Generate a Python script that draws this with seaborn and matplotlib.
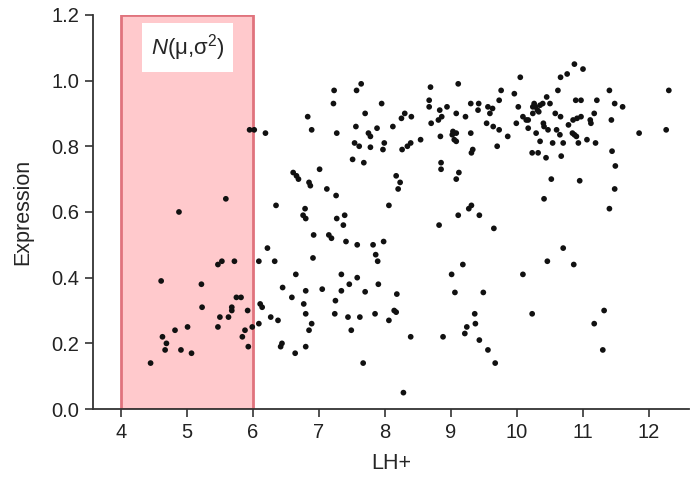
import matplotlib
matplotlib.use("Agg")
import matplotlib.pyplot as plt
import seaborn as sns

sns.set_style("ticks")
plt.rcParams['font.family'] = ['Liberation Sans', 'DejaVu Sans']
plt.rcParams['mathtext.fontset'] = 'custom'
plt.rcParams['mathtext.rm'] = 'Liberation Sans'
plt.rcParams['mathtext.it'] = 'Liberation Sans:italic'

# --------------------------------
# Data
# --------------------------------
lh_plus = [
    # inside the shaded 4-6 band
    4.88, 5.59, 5.53, 5.47, 5.72, 4.61, 5.22, 5.75, 5.82, 5.23, 5.68, 5.68, 5.92, 5.50, 5.63,
    5.47, 5.01, 4.82, 5.88, 5.99, 4.63, 4.69, 4.67, 4.91, 5.84, 5.93, 5.07, 4.45, 5.95, 6.02,
    # 6-8, upper
    6.19, 7.64, 7.57, 7.23, 7.22, 7.95, 6.83, 7.70, 6.89, 7.27, 7.56, 7.75, 7.78, 7.88, 8.12,
    7.99, 7.54, 7.61, 7.78, 7.97, 7.51, 7.68, 7.01, 6.61, 6.66, 6.69, 6.85, 6.87, 7.12, 7.26,
    8.17, 8.20, 8.06, 6.35, 6.79,
    # 6-8, lower
    6.76, 6.80, 7.27, 7.39, 7.37, 6.92, 7.15, 7.19, 7.41, 7.58, 7.82, 7.98, 7.86, 7.89, 6.22,
    6.09, 6.33, 6.91, 6.65, 7.34, 7.58, 7.46, 7.90, 6.45, 6.80, 7.05, 7.34, 7.70, 6.59, 6.77,
    7.25, 6.11, 6.14, 8.18, 8.14, 8.17, 6.80, 7.24, 7.85, 6.27, 6.38, 7.44, 7.62, 8.06, 6.09,
    6.89, 6.85, 7.49, 6.44, 6.42, 6.80, 6.64, 7.67,
    # 8-10, lower
    9.31, 9.27, 9.11, 9.43, 8.82, 9.65, 9.18, 9.01, 10.09, 9.06, 9.49, 9.36, 10.23, 9.37, 9.24,
    8.39, 8.88, 9.21, 9.43, 9.56, 9.67, 8.28,
    # 10-12, lower
    10.41, 11.40, 10.70, 10.46, 10.86, 11.32, 11.17, 11.30,
    # 8-10, upper
    10.05, 8.69, 9.11, 9.76, 9.96, 9.73, 8.67, 8.67, 8.83, 8.94, 9.30, 9.42, 9.41, 9.56, 9.63,
    9.59, 10.02, 8.30, 8.25, 8.40, 9.08, 9.22, 8.86, 8.81, 8.70, 9.54, 9.64, 9.73, 9.99, 10.09,
    10.14, 10.17, 10.24, 9.03, 9.02, 9.08, 9.05, 9.08, 8.84, 9.30, 9.86, 10.29, 8.54, 8.39, 8.34,
    8.26, 9.70, 9.33, 9.31, 10.23, 8.85, 8.85, 9.12, 9.08, 8.23,
    # 10-11 dense cluster
    10.62, 10.45, 10.26, 10.24, 10.28, 10.31, 10.35, 10.39, 10.33, 10.50, 10.58, 10.66, 10.40,
    10.41, 10.78, 10.85, 10.47, 10.60, 10.65, 10.35, 10.54, 10.70, 10.17,
    # 10-12.5, upper
    10.87, 11.00, 10.66, 10.76, 11.40, 12.30, 10.89, 10.97, 11.21, 11.48, 11.60, 11.17, 10.97,
    10.91, 11.11, 11.12, 11.43, 10.84, 10.87, 10.90, 11.85, 12.26, 10.93, 11.06, 11.19, 11.44,
    10.32, 10.44, 10.67, 11.49, 10.52, 10.95, 11.48,
]

expression = [
    0.60, 0.64, 0.45, 0.44, 0.45, 0.39, 0.38, 0.34, 0.34, 0.31, 0.31, 0.30, 0.30, 0.28, 0.28,
    0.25, 0.25, 0.24, 0.24, 0.25, 0.22, 0.20, 0.18, 0.18, 0.22, 0.19, 0.17, 0.14, 0.85, 0.85,
    0.84, 0.99, 0.97, 0.97, 0.93, 0.93, 0.89, 0.90, 0.85, 0.84, 0.86, 0.84, 0.83, 0.855, 0.86,
    0.81, 0.81, 0.80, 0.797, 0.79, 0.76, 0.75, 0.73, 0.72, 0.71, 0.70, 0.69, 0.68, 0.67, 0.65,
    0.71, 0.67, 0.62, 0.62, 0.61,
    0.59, 0.58, 0.58, 0.59, 0.56, 0.53, 0.53, 0.52, 0.51, 0.50, 0.50, 0.51, 0.47, 0.45, 0.49,
    0.45, 0.45, 0.46, 0.41, 0.41, 0.40, 0.38, 0.38, 0.37, 0.36, 0.365, 0.36, 0.357, 0.34, 0.32,
    0.33, 0.32, 0.31, 0.35, 0.30, 0.295, 0.29, 0.29, 0.29, 0.28, 0.27, 0.28, 0.28, 0.27, 0.26,
    0.26, 0.24, 0.24, 0.20, 0.19, 0.19, 0.17, 0.14,
    0.62, 0.61, 0.59, 0.59, 0.56, 0.55, 0.44, 0.41, 0.41, 0.355, 0.355, 0.29, 0.29, 0.26, 0.25,
    0.22, 0.22, 0.23, 0.21, 0.18, 0.14, 0.05,
    0.64, 0.61, 0.49, 0.45, 0.44, 0.30, 0.26, 0.18,
    1.01, 0.98, 0.99, 0.97, 0.96, 0.94, 0.94, 0.92, 0.91, 0.92, 0.93, 0.93, 0.91, 0.92, 0.915,
    0.90, 0.92, 0.90, 0.885, 0.89, 0.90, 0.89, 0.89, 0.88, 0.87, 0.87, 0.86, 0.85, 0.87, 0.89,
    0.88, 0.855, 0.90, 0.845, 0.835, 0.84, 0.82, 0.815, 0.83, 0.84, 0.83, 0.84, 0.82, 0.81, 0.80,
    0.79, 0.80, 0.79, 0.78, 0.78, 0.75, 0.73, 0.72, 0.70, 0.69,
    0.97, 0.95, 0.93, 0.92, 0.92, 0.91, 0.925, 0.93, 0.905, 0.93, 0.90, 0.89, 0.87,
    0.86, 0.865, 0.88, 0.85, 0.85, 0.835, 0.815, 0.81, 0.81, 0.88,
    1.05, 1.035, 1.01, 1.02, 0.97, 0.97, 0.94, 0.94, 0.94, 0.93, 0.92, 0.90, 0.89,
    0.885, 0.88, 0.87, 0.88, 0.84, 0.835, 0.83, 0.84, 0.85, 0.81, 0.82, 0.81, 0.785,
    0.78, 0.765, 0.77, 0.74, 0.70, 0.695, 0.67,
]

band = (4, 6)
x_ticks = [4, 5, 6, 7, 8, 9, 10, 11, 12]
y_ticks = [0.0, 0.2, 0.4, 0.6, 0.8, 1.0, 1.2]

# --------------------------------
# Plot
# --------------------------------
fig, ax = plt.subplots(figsize=(6.9, 4.79), dpi=100)
fig.subplots_adjust(left=0.135, right=0.998, top=0.969, bottom=0.146)

ax.axvspan(band[0], band[1], facecolor='#ffc9cc', edgecolor='#e0737d', lw=2, zorder=1)

sns.scatterplot(x=lh_plus, y=expression, color='#111111', s=17, edgecolor='none',
                ax=ax, zorder=3)

ax.text(5.01, 1.1, r'$\mathit{N}$(μ,σ$^2$)', ha='center', va='center', fontsize=16,
        bbox=dict(facecolor='white', edgecolor='none', boxstyle='square,pad=0.4'), zorder=4)

ax.set_xlim(3.58, 12.6)
ax.set_ylim(0, 1.2)
ax.set_xticks(x_ticks)
ax.set_yticks(y_ticks)
ax.set_yticklabels([f"{v:.1f}" for v in y_ticks])
ax.set_xlabel("LH+", fontsize=15.5, labelpad=8)
ax.set_ylabel("Expression", fontsize=15.5, labelpad=13)
ax.tick_params(direction='out', length=6, width=1.2, color='#333333', labelsize=14.5,
               labelcolor='#222222', pad=4)

sns.despine(ax=ax)
for side in ['left', 'bottom']:
    ax.spines[side].set_color('#333333')
    ax.spines[side].set_linewidth(1.3)

plt.savefig("out.png", dpi=100)
